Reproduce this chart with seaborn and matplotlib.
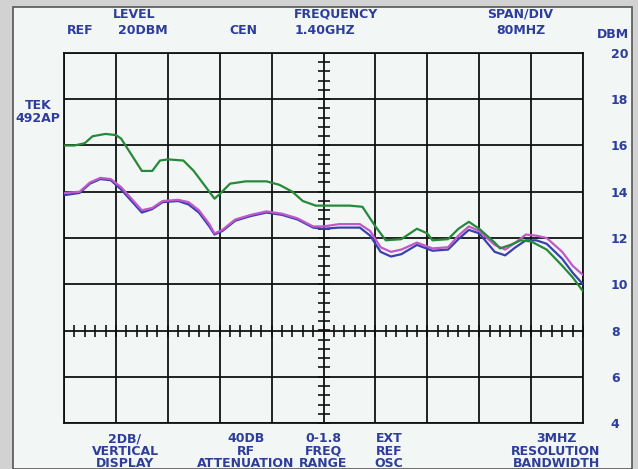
import numpy as np
import pandas as pd
import seaborn as sns
import matplotlib.pyplot as plt
from matplotlib.patches import Rectangle

# trace values (x in divisions, y in dBm)
green_x = [0, 0.2, 0.4, 0.55, 0.8, 1.0, 1.1, 1.5, 1.7, 1.85, 2.0, 2.3, 2.5, 2.8, 2.9, 3.0,
           3.2, 3.5, 3.9, 4.15, 4.4, 4.6, 4.85, 5.0, 5.5, 5.75, 6.0, 6.2, 6.5, 6.8, 7.0,
           7.1, 7.4, 7.6, 7.8, 8.0, 8.3, 8.4, 8.6, 8.8, 9.0, 9.3, 9.6, 9.8, 10.0]
green_y = [16.0, 16.0, 16.1, 16.4, 16.5, 16.45, 16.3, 14.9, 14.9, 15.35, 15.4, 15.35, 14.9,
           14.0, 13.7, 13.9, 14.35, 14.45, 14.45, 14.3, 14.0, 13.6, 13.4, 13.4, 13.4, 13.35,
           12.5, 11.9, 11.95, 12.4, 12.2, 11.9, 11.95, 12.4, 12.7, 12.4, 11.8, 11.55, 11.7,
           11.9, 11.85, 11.5, 10.8, 10.3, 9.7]

pb_x = [0, 0.3, 0.5, 0.7, 0.9, 1.1, 1.3, 1.5, 1.7, 1.9, 2.2, 2.4, 2.6, 2.8, 2.9, 3.05,
        3.3, 3.6, 3.9, 4.2, 4.5, 4.8, 5.0, 5.3, 5.7, 5.9, 6.1, 6.3, 6.5, 6.8, 7.1, 7.4,
        7.6, 7.8, 8.0, 8.3, 8.5, 8.7, 8.9, 9.1, 9.3, 9.6, 9.8, 10.0]
magenta_y = [13.95, 14.0, 14.4, 14.6, 14.55, 14.2, 13.7, 13.2, 13.3, 13.6, 13.65, 13.55,
             13.2, 12.6, 12.2, 12.35, 12.8, 13.0, 13.15, 13.05, 12.85, 12.5, 12.5, 12.6,
             12.6, 12.3, 11.6, 11.4, 11.5, 11.8, 11.55, 11.6, 12.1, 12.5, 12.3, 11.7, 11.5,
             11.8, 12.15, 12.1, 12.0, 11.4, 10.8, 10.4]
blue_y = [13.85, 13.95, 14.35, 14.55, 14.5, 14.1, 13.6, 13.1, 13.25, 13.55, 13.6, 13.45,
          13.1, 12.5, 12.15, 12.3, 12.75, 12.95, 13.1, 13.0, 12.8, 12.45, 12.4, 12.45,
          12.45, 12.1, 11.4, 11.2, 11.3, 11.7, 11.45, 11.5, 11.95, 12.35, 12.2, 11.4,
          11.25, 11.6, 11.9, 11.9, 11.75, 11.1, 10.5, 10.0]

dbm_ticks = [4, 6, 8, 10, 12, 14, 16, 18, 20]

df = pd.concat([
    pd.DataFrame({'div': pb_x, 'dbm': blue_y, 'trace': 'blue'}),
    pd.DataFrame({'div': pb_x, 'dbm': magenta_y, 'trace': 'magenta'}),
    pd.DataFrame({'div': green_x, 'dbm': green_y, 'trace': 'green'}),
])

txt = '#2e3d9c'
sns.set_style('white')
plt.rcParams['font.family'] = ['DejaVu Sans']

fig = plt.figure(figsize=(6.38, 4.69), dpi=100)
fig.patch.set_facecolor('#d2d2d2')
fig.patches.append(Rectangle((13 / 638, 0), 619 / 638, 462 / 469, transform=fig.transFigure,
                             facecolor='#f2f7f5', edgecolor='#555555', lw=1.2, zorder=-10))
ax = fig.add_axes([64 / 638, 46 / 469, 519 / 638, 370 / 469])
ax.set_facecolor('#f2f7f5')

sns.lineplot(data=df, x='div', y='dbm', hue='trace', sort=False, ax=ax, legend=False,
             palette={'blue': '#3b3fb0', 'magenta': '#c257c8', 'green': '#25893a'},
             linewidth=1.6, zorder=3)

ax.set_xlim(0, 10)
ax.set_ylim(4, 20)
ax.set_xticks(range(11))
ax.set_yticks(dbm_ticks)
ax.grid(True, color='#111111', lw=1.3)
ax.set_xticklabels([])
ax.yaxis.tick_right()
ax.tick_params(axis='both', length=0)
ax.tick_params(axis='y', pad=20, labelsize=9, labelcolor=txt)
for lab in ax.get_yticklabels():
    lab.set_fontweight('bold')
ax.set_xlabel('')
ax.set_ylabel('')
for s in ax.spines.values():
    s.set_color('#111111')
    s.set_linewidth(1.3)

# centre graticule with minor ticks
minor = np.arange(0, 10.01, 0.2)
ax.plot(minor, [8] * len(minor), ls='none', marker='|', ms=8, mew=1.2, color='#111111', zorder=2)
minor_y = np.arange(4, 20.01, 0.4)
ax.plot([5] * len(minor_y), minor_y, ls='none', marker='_', ms=8, mew=1.2, color='#111111', zorder=2)

def label(x, y, s, ha='center'):
    fig.text(x / 638, 1 - y / 469, s, ha=ha, va='center', color=txt, fontsize=9,
             fontweight='bold', linespacing=0.95)

label(134, 14, 'LEVEL')
label(80, 30, 'REF')
label(143, 30, '20DBM')
label(243, 30, 'CEN')
label(336, 14, 'FREQUENCY')
label(325, 30, '1.40GHZ')
label(520, 14, 'SPAN/DIV')
label(521, 30, '80MHZ')
label(613, 34, 'DBM')
label(38, 112, 'TEK\n492AP')
label(125, 451, '2DB/\nVERTICAL\nDISPLAY')
label(246, 451, '40DB\nRF\nATTENUATION')
label(323, 451, '0-1.8\nFREQ\nRANGE')
label(389, 451, 'EXT\nREF\nOSC')
label(556, 451, '3MHZ\nRESOLUTION\nBANDWIDTH')

fig.savefig('out.png', dpi=100, facecolor=fig.get_facecolor())
